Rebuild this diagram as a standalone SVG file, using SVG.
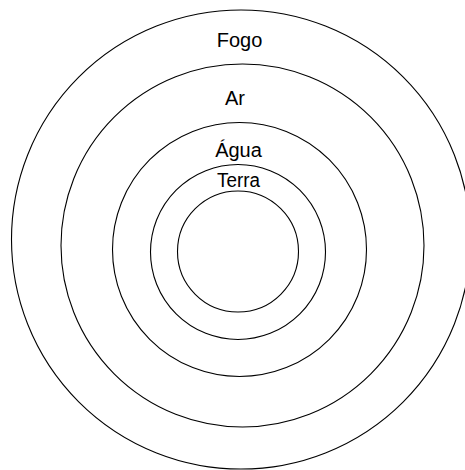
<svg xmlns="http://www.w3.org/2000/svg" width="465" height="470" viewBox="0 0 465 470">
<style>
.ring{fill:none;stroke:#000;stroke-width:1.1}
.lbl{font-family:"Liberation Sans",Arial,sans-serif;font-size:20px;fill:#000;text-anchor:middle}
</style>
<rect width="465" height="470" fill="#fff"/>
<g id="fogo">
<circle class="ring" cx="241" cy="239.5" r="229.5"/>
<text class="lbl" x="239.5" y="47">Fogo</text>
</g>
<g id="ar">
<circle class="ring" cx="242.5" cy="245.5" r="181.5"/>
<text class="lbl" x="235" y="105">Ar</text>
</g>
<g id="agua">
<circle class="ring" cx="239.5" cy="249.5" r="127"/>
<text class="lbl" x="238.5" y="157">Água</text>
</g>
<g id="terra">
<circle class="ring" cx="238" cy="252" r="87.5"/>
<text class="lbl" x="238.5" y="187" textLength="43" lengthAdjust="spacingAndGlyphs">Terra</text>
</g>
<g id="core">
<circle class="ring" cx="238" cy="251.5" r="60.5"/>
</g>
<g id="connectors"></g>
</svg>
